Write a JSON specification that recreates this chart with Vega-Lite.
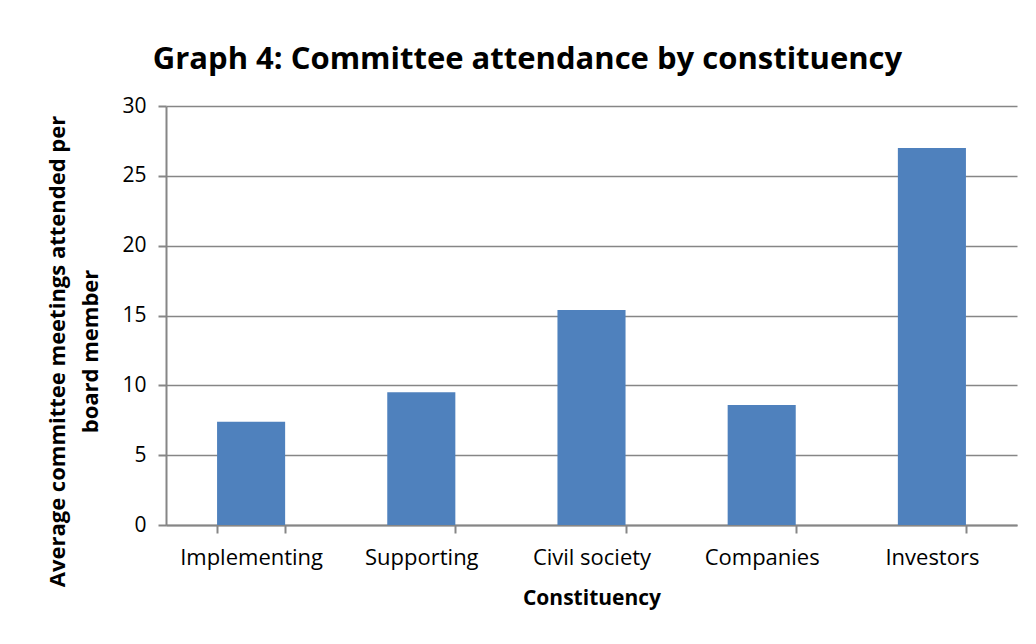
{
  "$schema": "https://vega.github.io/schema/vega-lite/v6.json",
  "autosize": "none",
  "width": 851,
  "height": 419,
  "padding": {"left": 166, "top": 106, "right": 19, "bottom": 119},
  "background": "white",
  "title": {
    "text": "Graph 4: Committee attendance by constituency",
    "font": "Open Sans",
    "fontSize": 31,
    "fontWeight": "bold",
    "color": "black",
    "anchor": "middle",
    "dx": -64,
    "offset": 19
  },
  "data": {
    "values": [
      {"Constituency": "Implementing", "value": 7.4},
      {"Constituency": "Supporting", "value": 9.5},
      {"Constituency": "Civil society", "value": 15.4},
      {"Constituency": "Companies", "value": 8.6},
      {"Constituency": "Investors", "value": 27.0}
    ]
  },
  "mark": {"type": "bar", "color": "#4F81BD"},
  "encoding": {
    "x": {
      "field": "Constituency",
      "type": "nominal",
      "sort": null,
      "scale": {"paddingInner": 0.6, "paddingOuter": 0.3},
      "axis": {
        "title": "Constituency",
        "titleFont": "Open Sans",
        "titleFontSize": 21,
        "titleFontWeight": "bold",
        "titleColor": "black",
        "titlePadding": 19,
        "labelFont": "Open Sans",
        "labelFontSize": 22,
        "labelColor": "black",
        "labelAngle": 0,
        "labelPadding": 14,
        "domainColor": "#868686",
        "domainWidth": 2,
        "tickColor": "#868686",
        "tickWidth": 2,
        "tickSize": 8,
        "tickBand": "extent",
        "grid": false
      }
    },
    "y": {
      "field": "value",
      "type": "quantitative",
      "scale": {"domain": [0, 30], "nice": false},
      "axis": {
        "title": ["Average committee meetings attended per", "board member"],
        "titleFont": "Open Sans",
        "titleFontSize": 22,
        "titleFontWeight": "bold",
        "titleColor": "black",
        "titlePadding": 19,
        "titleLineHeight": 33,
        "titleY": 245,
        "values": [0, 5, 10, 15, 20, 25, 30],
        "labelFont": "Open Sans",
        "labelFontSize": 21,
        "labelColor": "black",
        "labelPadding": 12,
        "domainColor": "#868686",
        "domainWidth": 2,
        "tickColor": "#868686",
        "tickWidth": 2,
        "tickSize": 8,
        "gridColor": "#868686",
        "gridWidth": 1.5
      }
    }
  },
  "config": {"view": {"stroke": null}}
}
